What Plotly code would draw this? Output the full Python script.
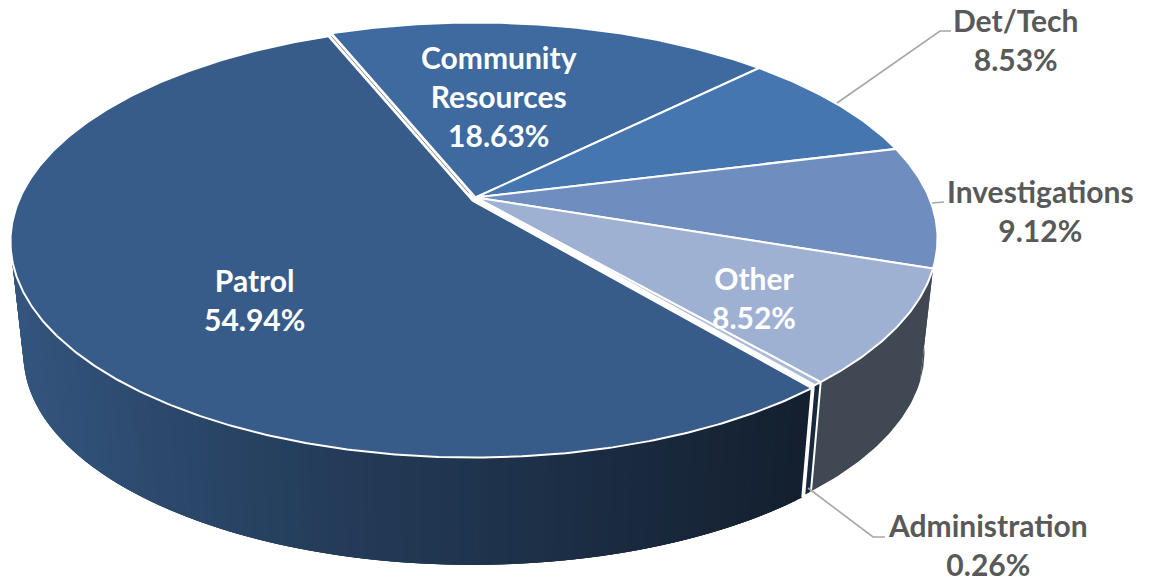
import numpy as np
import plotly.graph_objects as go

# Budget shares, clockwise from the first slice
categories = ["Patrol", "Community<br>Resources", "Det/Tech", "Investigations", "Other", "Administration"]
shares = [54.94, 18.63, 8.53, 9.12, 8.52, 0.26]
top_colors = ["#375c89", "#3e6a9f", "#4676af", "#6f8dbf", "#9fb1d3", "#a9bad9"]
wall_colors = [None, "#24405f", "#2a4668", "#404854", "#404854", "#1a2a3e"]
label_colors = ["#ffffff", "#ffffff", "#595959", "#595959", "#ffffff", "#595959"]
label_xy = [(254, 299), (499, 96), (1015, 39), (1040, 210), (754, 297), (988, 544)]

# Perspective projection of the disc: top face and the slightly smaller base
START_ANGLE = 140.3
CX = 475.5
TILT = 0.19
TOP = dict(cy=197.5, a=453.6, b=208.2)
BASE = dict(cy=312.0, a=440.8, b=202.4)
# Patrol is pulled slightly away from the rest of the pie
PATROL_OFFSET = (-3.0, 3.0)


def project(theta, face, offset=(0.0, 0.0), radius=1.0):
    t = np.radians(theta)
    px, py = radius * np.sin(t), -radius * np.cos(t)
    w = 1 - TILT * py
    return CX + face["a"] * px / w + offset[0], face["cy"] + face["b"] * py / w + offset[1]


def mix(c1, c2, f):
    rgb = [round(u + (v - u) * f) for u, v in zip(c1, c2)]
    return f"rgb({rgb[0]},{rgb[1]},{rgb[2]})"


def polygon(x, y, fill, line=None, width=0.0):
    return go.Scatter(
        x=list(x), y=list(y), mode="lines", fill="toself", fillcolor=fill,
        line=dict(color=line or fill, width=width), hoverinfo="skip", showlegend=False,
    )


def patrol_wall_color(x):
    # Horizontal shading of the long front wall, light at the left, dark at the right
    stops = [(52, 85, 126), (38, 64, 95), (29, 48, 72), (20, 32, 47)]
    f = np.clip((x - 15) / 785, 0, 1) * 3
    i = min(int(f), 2)
    return mix(stops[i], stops[i + 1], f - i)


edges = START_ANGLE + np.concatenate([[0], np.cumsum(shares)]) * 3.6
fig = go.Figure()

# Walls first: only the front half of the disc (90 to 270 degrees) can be seen.
# Slices past the top of the circle are unwrapped back by one full turn.
for i in [3, 4, 5, 0]:
    turn = 360.0 if edges[i] >= 360.0 else 0.0
    a0, a1 = max(edges[i] - turn, 90.0), min(edges[i + 1] - turn, 270.0)
    off = PATROL_OFFSET if i == 0 else (0.0, 0.0)
    if i == 0:
        # Overlapping strips keep the shading free of hairline seams
        for s0 in np.arange(a0, a1, 1.0):
            th = np.linspace(s0, min(s0 + 3.0, a1), 5)
            xt, yt = project(th, TOP, off)
            xb, yb = project(th[::-1], BASE, off)
            color = patrol_wall_color((xt[0] + xb[-1]) / 2)
            fig.add_trace(polygon(np.r_[xt, xb, xt[0]], np.r_[yt, yb, yt[0]], color))
    else:
        th = np.linspace(a0, a1, 40)
        xt, yt = project(th, TOP, off)
        xb, yb = project(th[::-1], BASE, off)
        fig.add_trace(polygon(np.r_[xt, xb, xt[0]], np.r_[yt, yb, yt[0]], wall_colors[i]))

# White seams on both sides of the thin Administration wedge
for angle, off in [(edges[0], PATROL_OFFSET), (edges[5], (0.0, 0.0))]:
    xt, yt = project(angle, TOP, off)
    xb, yb = project(angle, BASE, off)
    fig.add_trace(go.Scatter(x=[xt, xb], y=[yt, yb], mode="lines",
                             line=dict(color="#ffffff", width=2.0),
                             hoverinfo="skip", showlegend=False))

# Top faces
for i in [1, 2, 3, 4, 5, 0]:
    a0, a1 = edges[i], edges[i + 1]
    off = PATROL_OFFSET if i == 0 else (0.0, 0.0)
    th = np.linspace(a0, a1, max(int((a1 - a0) * 2), 4))
    x, y = project(th, TOP, off)
    ax, ay = project(0.0, TOP, off, radius=0.0)
    fig.add_trace(polygon(np.r_[ax, x, ax], np.r_[ay, y, ay], top_colors[i], "#ffffff", 2.0))

# Narrow grey seam where Patrol separates from Community Resources
sx, sy = project(edges[1], TOP, (-1.5, 1.5), radius=np.array([0.03, 0.99]))
fig.add_trace(go.Scatter(x=sx, y=sy, mode="lines", line=dict(color="#8c8c8c", width=1.0),
                         hoverinfo="skip", showlegend=False))

for name, share, (lx, ly), color in zip(categories, shares, label_xy, label_colors):
    fig.add_annotation(
        x=lx, y=ly, text=f"{name}<br>{share:.2f}%", showarrow=False,
        xanchor="center", yanchor="middle", align="center",
        font=dict(family="Lato", size=30, color=color, weight="bold"),
    )

# Leader lines for the labels placed outside the pie
for path in ["M 837 103 L 940 31 L 951 31", "M 932 203 L 944 202", "M 808 488 L 873 537 L 885 537"]:
    fig.add_shape(type="path", path=path, line=dict(color="#a6a6a6", width=1.6), xref="x", yref="y")

fig.update_layout(
    width=1149, height=581, margin=dict(l=0, r=0, t=0, b=0),
    paper_bgcolor="#ffffff", plot_bgcolor="#ffffff", showlegend=False,
    xaxis=dict(range=[0, 1149], visible=False, fixedrange=True),
    yaxis=dict(range=[581, 0], visible=False, fixedrange=True),
)
fig.write_html("out.html", config=dict(displayModeBar=False))
